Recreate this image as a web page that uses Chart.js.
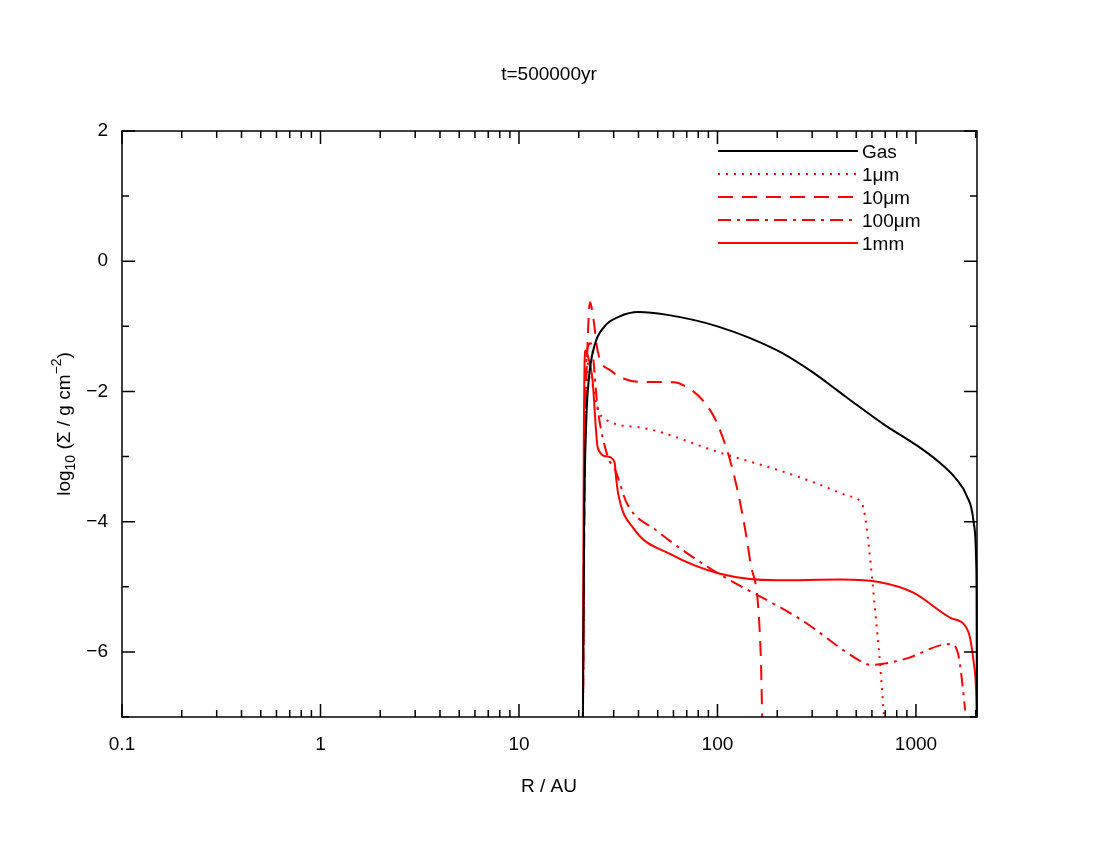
<!DOCTYPE html>
<html>
<head>
<meta charset="utf-8">
<script src="https://cdn.jsdelivr.net/npm/chart.js@4"></script>
<style>html,body{margin:0;background:#fff}</style>
</head>
<body>
<canvas id="c" width="1100" height="850" style="width:1100px;height:850px"></canvas>
<script>
// Series: radius (AU) and log10 surface density
const gasR = [21, 21.3, 21.8, 22.5, 24, 27, 32, 40, 55, 100, 200, 300, 400, 500, 700, 1000, 1300, 1600, 1800, 1950, 2010, 2020, 2028];
const gasS = [-7, -4, -2.5, -1.8, -1.3, -1.0, -0.85, -0.78, -0.82, -1.0, -1.37, -1.7, -1.98, -2.2, -2.52, -2.82, -3.08, -3.35, -3.6, -4.0, -4.6, -5.1, -7];
const um1R = [21, 21.3, 21.8, 22.5, 23.5, 25.8, 40, 103, 250, 450, 520, 545, 580, 620, 660, 690];
const um1S = [-7, -4, -2.2, -1.5, -1.9, -2.37, -2.55, -2.94, -3.3, -3.6, -3.68, -3.8, -4.4, -5.3, -6.2, -7];
const um10R = [21, 21.5, 22.2, 22.8, 23.5, 25, 29, 40, 60, 70.6, 85, 100, 123, 146, 165, 168];
const um10S = [-7, -3, -1.2, -0.63, -0.8, -1.4, -1.68, -1.85, -1.86, -1.94, -2.15, -2.5, -3.37, -4.6, -6, -7];
const um100R = [21, 21.4, 22.3, 23, 25, 28, 30.5, 35, 50, 92, 262, 525, 590, 900, 1320, 1500, 1630, 1700, 1770];
const um100S = [-7, -3, -1.3, -1.26, -2.3, -3.0, -3.2, -3.72, -4.15, -4.72, -5.5, -6.14, -6.2, -6.1, -5.9, -5.88, -6.03, -6.4, -6.9];
const mm1R = [21, 21.2, 21.6, 22.2, 23.4, 25, 28, 30.3, 30.8, 31.6, 37.7, 58, 103, 200, 416, 660, 970, 1500, 1830, 1950, 2010, 2025];
const mm1S = [-7, -3, -1.37, -1.45, -1.78, -2.88, -3.0, -3.09, -3.3, -3.57, -4.1, -4.5, -4.8, -4.9, -4.89, -4.93, -5.09, -5.48, -5.68, -6.14, -6.6, -7];
const xTicks = [0.1, 1, 10, 100, 1000];
const yTicks = [2, 0, -2, -4, -6];

const FONT = '"Liberation Sans", Arial, sans-serif';
const series = [
  { label: 'Gas', r: gasR, s: gasS, color: '#000000', dash: [] },
  { label: '1\u03bcm', r: um1R, s: um1S, color: '#ff0000', dash: [2, 6] },
  { label: '10\u03bcm', r: um10R, s: um10S, color: '#ff0000', dash: [15, 9] },
  { label: '100\u03bcm', r: um100R, s: um100S, color: '#ff0000', dash: [13, 6, 3, 6] },
  { label: '1mm', r: mm1R, s: mm1S, color: '#ff0000', dash: [] }
];

// Axes frame, ticks, labels, legend drawn in gnuplot-like style
const decor = {
  id: 'decor',
  afterDraw(chart) {
    const ctx = chart.ctx, a = chart.chartArea;
    const xs = chart.scales.x, ys = chart.scales.y;
    ctx.save();
    ctx.strokeStyle = '#000'; ctx.lineWidth = 1.5; ctx.setLineDash([]);
    ctx.strokeRect(a.left, a.top, a.right - a.left, a.bottom - a.top);
    ctx.beginPath();
    for (let d = 0.1; d < 3000; d *= 10) {
      for (let k = 1; k <= 9; k++) {
        const v = d * k;
        if (v < 0.1 || v > xs.max) continue;
        const px = xs.getPixelForValue(v), len = k === 1 ? 13 : 7;
        ctx.moveTo(px, a.bottom); ctx.lineTo(px, a.bottom - len);
        ctx.moveTo(px, a.top); ctx.lineTo(px, a.top + len);
      }
    }
    for (let v = -7; v <= 2; v++) {
      const py = ys.getPixelForValue(v), len = v % 2 === 0 ? 13 : 7;
      ctx.moveTo(a.left, py); ctx.lineTo(a.left + len, py);
      ctx.moveTo(a.right, py); ctx.lineTo(a.right - len, py);
    }
    ctx.stroke();
    ctx.fillStyle = '#000'; ctx.font = '19px ' + FONT;
    ctx.textAlign = 'center'; ctx.textBaseline = 'middle';
    xTicks.forEach(v => ctx.fillText(String(v), xs.getPixelForValue(v), 745));
    ctx.textAlign = 'right';
    yTicks.forEach(v => ctx.fillText(v < 0 ? '\u2212' + (-v) : String(v), 108, ys.getPixelForValue(v)));
    ctx.textAlign = 'center';
    ctx.fillText('t=500000yr', 549, 75);
    ctx.fillText('R / AU', 549, 787);
    // y label with subscript / superscript
    ctx.save();
    ctx.translate(65, 424); ctx.rotate(-Math.PI / 2);
    const parts = [['log', 19, 0], ['10', 14, 6], [' (\u03a3 / g cm', 19, 0], ['\u22122', 14, -8], [')', 19, 0]];
    let w = 0;
    parts.forEach(p => { ctx.font = p[1] + 'px ' + FONT; w += ctx.measureText(p[0]).width; });
    let x = -w / 2; ctx.textAlign = 'left';
    parts.forEach(p => { ctx.font = p[1] + 'px ' + FONT; ctx.fillText(p[0], x, p[2]); x += ctx.measureText(p[0]).width; });
    ctx.restore();
    // legend
    ctx.font = '19px ' + FONT; ctx.textAlign = 'left'; ctx.lineWidth = 1.8;
    series.forEach((s, i) => {
      const y = 151 + i * 23;
      ctx.strokeStyle = s.color; ctx.setLineDash(s.dash);
      ctx.beginPath(); ctx.moveTo(718, y); ctx.lineTo(858, y); ctx.stroke();
      ctx.fillText(s.label, 862, y + 2);
    });
    ctx.restore();
  }
};

new Chart(document.getElementById('c'), {
  type: 'scatter',
  data: {
    datasets: series.map(s => ({
      label: s.label,
      data: s.r.map((r, i) => ({ x: r, y: s.s[i] })),
      showLine: true, borderColor: s.color, borderDash: s.dash, borderWidth: 2,
      pointRadius: 0, tension: 0.3, cubicInterpolationMode: 'monotone', clip: 3
    }))
  },
  options: {
    responsive: false, animation: false,
    layout: { padding: { left: 122, right: 123, top: 131, bottom: 133 } },
    plugins: { legend: { display: false }, tooltip: { enabled: false } },
    scales: {
      x: { type: 'logarithmic', min: 0.1, max: 2030, display: false },
      y: { type: 'linear', min: -7, max: 2, display: false }
    }
  },
  plugins: [decor]
});
</script>
</body>
</html>
